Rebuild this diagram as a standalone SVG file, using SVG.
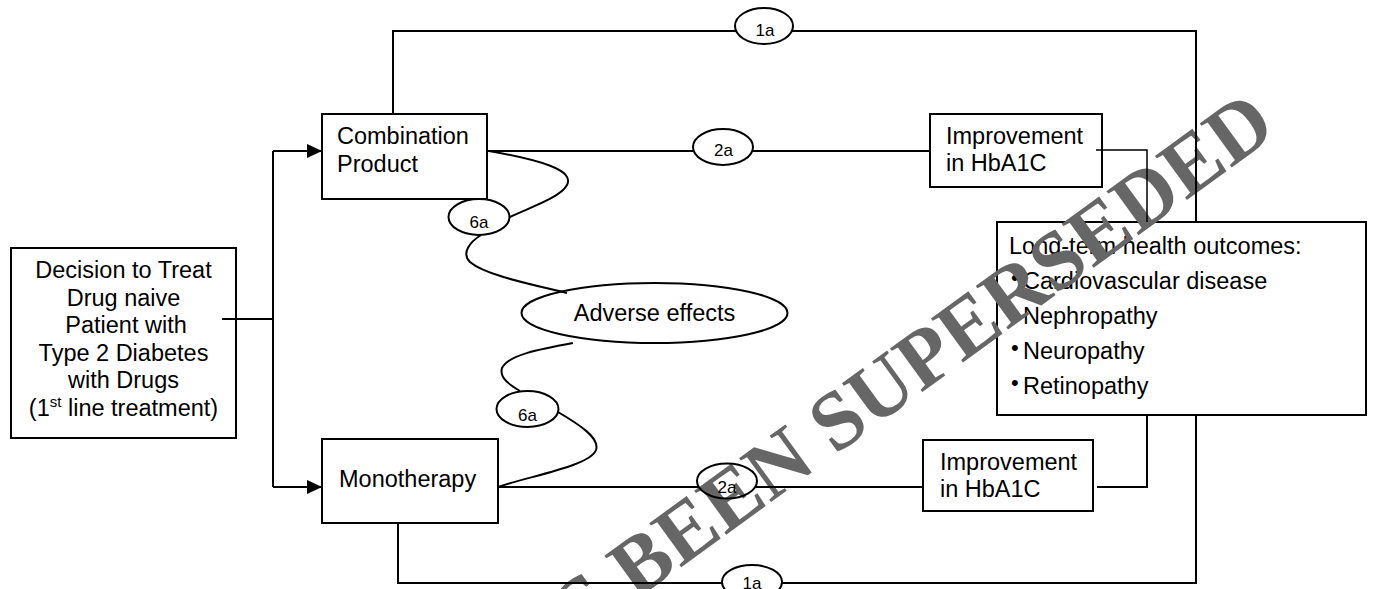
<svg xmlns="http://www.w3.org/2000/svg" width="1374" height="589" viewBox="0 0 1374 589">
<style>
.box{fill:#fff;stroke:#000;stroke-width:2}
.t{font-family:"Liberation Sans",Arial,sans-serif;font-size:23.5px;fill:#000}
.bu{font-size:22px}
.lbl{font-family:"Liberation Sans",Arial,sans-serif;font-size:17px;fill:#000;text-anchor:middle}
.ln{fill:none;stroke:#000;stroke-width:2}
.thin{fill:none;stroke:#000;stroke-width:1.5}
.oval{fill:none;stroke:#000;stroke-width:2}
.wm{font-family:"Liberation Serif","Times New Roman",serif;font-weight:bold;font-size:83px;fill:#666}
</style>
<defs>
<marker id="arr" viewBox="0 0 15 14" refX="15" refY="7" markerWidth="15" markerHeight="14" markerUnits="userSpaceOnUse" orient="auto">
<path d="M0,0 L15,7 L0,14 z" fill="#000"/>
</marker>
</defs>
<rect width="1374" height="589" fill="#fff"/>

<g id="decision">
<rect class="box" x="11" y="248" width="225" height="190"/>
<text class="t" x="123.5" y="278" text-anchor="middle">Decision to Treat</text>
<text class="t" x="123.5" y="305.5" text-anchor="middle">Drug naive</text>
<text class="t" x="126" y="333" text-anchor="middle">Patient with</text>
<text class="t" x="123.5" y="360.5" text-anchor="middle">Type 2 Diabetes</text>
<text class="t" x="123.5" y="388" text-anchor="middle">with Drugs</text>
<text class="t" x="123.5" y="415.5" text-anchor="middle">(1<tspan font-size="15" dy="-9">st</tspan><tspan dy="9"> line treatment)</tspan></text>
</g>

<g id="combination">
<rect class="box" x="322" y="114" width="165" height="85"/>
<text class="t" x="337" y="144">Combination</text>
<text class="t" x="337" y="172">Product</text>
</g>

<g id="monotherapy">
<rect class="box" x="322" y="439" width="176" height="84"/>
<text class="t" x="339" y="487">Monotherapy</text>
</g>

<g id="improvement-top">
<rect class="box" x="930" y="114" width="172" height="73"/>
<text class="t" x="946" y="144">Improvement</text>
<text class="t" x="946" y="171">in HbA1C</text>
</g>

<g id="improvement-bottom">
<rect class="box" x="923" y="440" width="170" height="71"/>
<text class="t" x="940" y="470">Improvement</text>
<text class="t" x="940" y="497">in HbA1C</text>
</g>

<g id="adverse">
<ellipse class="box" cx="654.5" cy="313" rx="133" ry="30"/>
<text class="t" x="654.5" y="321" text-anchor="middle">Adverse effects</text>
</g>

<g id="outcomes">
<rect class="box" x="997" y="222" width="369" height="193"/>
<text class="t" x="1009" y="254">Long-term health outcomes:</text>
<text class="t"><tspan class="bu" x="1011" y="285">•</tspan><tspan x="1023" y="289">Cardiovascular disease</tspan></text>
<text class="t"><tspan class="bu" x="1011" y="320">•</tspan><tspan x="1023" y="324">Nephropathy</tspan></text>
<text class="t"><tspan class="bu" x="1011" y="355">•</tspan><tspan x="1023" y="359">Neuropathy</tspan></text>
<text class="t"><tspan class="bu" x="1011" y="390">•</tspan><tspan x="1023" y="394">Retinopathy</tspan></text>
</g>

<text class="wm" x="397.8" y="27.5" text-anchor="end" transform="translate(941,344.5) rotate(-36)">HAS BEEN SUPERSEDED</text>

<g id="connectors">
<path class="ln" d="M222,319 H273 M273,151 V487"/>
<path class="ln" d="M273,151 H322" marker-end="url(#arr)"/>
<path class="ln" d="M273,487 H322" marker-end="url(#arr)"/>
<path class="ln" d="M393,114 V31 H736 M792,31 H1196 V222"/>
<path class="ln" d="M487,151 H694 M752,151 H930"/>
<path class="thin" d="M1096,150 H1147 V222"/>
<path class="ln" d="M1147,415 V487 H1097"/>
<path class="ln" d="M498,487 H699 M755,487 H923"/>
<path class="ln" d="M398,523 V583 H722 M782,583 H1196 V415"/>
<path class="ln" d="M489,151 C540,160 575,170 567,185 C560,198 528,208 510,217"/>
<path class="ln" d="M481,235 C470,242 461,253 470,262 C485,275 530,284 567,293"/>
<path class="ln" d="M573,343 C540,349 508,355 502,368 C499,378 510,385 520,391"/>
<path class="ln" d="M558,412 C580,425 600,438 596,450 C590,466 530,476 498,487"/>
<ellipse class="oval" cx="764" cy="26" rx="29" ry="18"/>
<text class="lbl" x="765" y="35.5">1a</text>
<ellipse class="oval" cx="723" cy="147" rx="30" ry="18"/>
<text class="lbl" x="723.5" y="155.5">2a</text>
<ellipse class="oval" cx="479" cy="217" rx="30.5" ry="18"/>
<text class="lbl" x="479" y="228">6a</text>
<ellipse class="oval" cx="527.5" cy="409" rx="31" ry="18"/>
<text class="lbl" x="527.5" y="420.5">6a</text>
<ellipse class="oval" cx="727" cy="481" rx="30" ry="17.5"/>
<text class="lbl" x="727" y="492.5">2a</text>
<ellipse class="oval" cx="752" cy="582" rx="30" ry="17"/>
<text class="lbl" x="752" y="589">1a</text>
</g>
</svg>
